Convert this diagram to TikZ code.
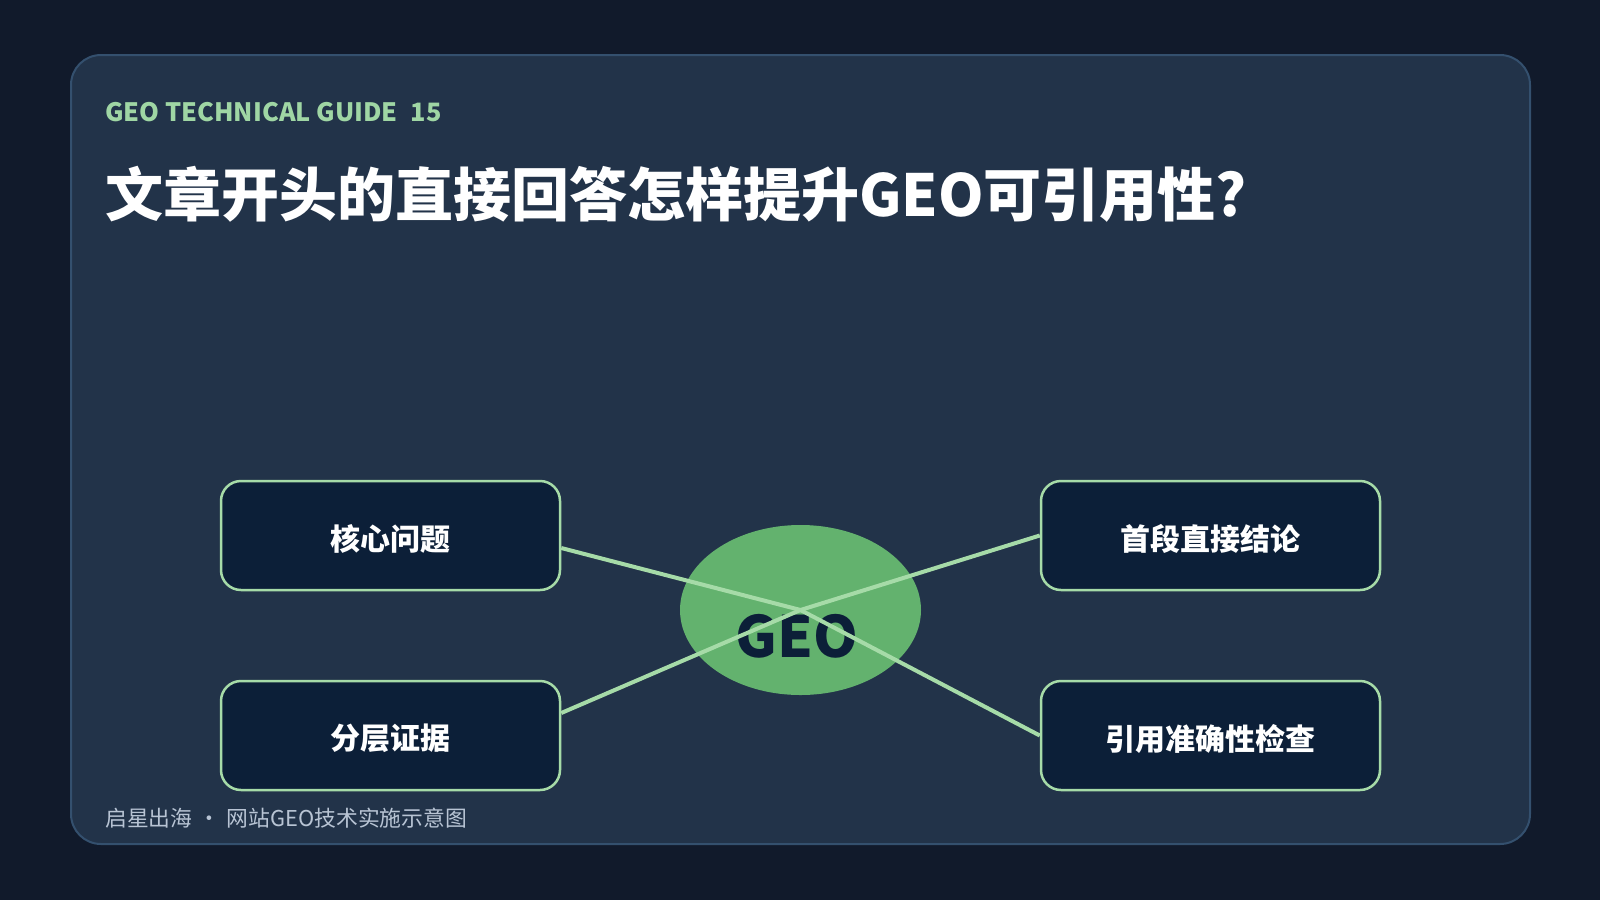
\documentclass[tikz,border=0pt]{standalone}
\usepackage{fontspec}
\setmainfont{Noto Sans CJK SC}
\newfontfamily\cjk{Noto Sans CJK SC}
\usetikzlibrary{shapes.geometric,calc}
\definecolor{bgc}{HTML}{111A2B}
\definecolor{cardc}{HTML}{223349}
\definecolor{cardb}{HTML}{34506E}
\definecolor{greent}{HTML}{9FD6A4}
\definecolor{boxc}{HTML}{0C1F38}
\definecolor{boxb}{HTML}{A6DBA8}
\definecolor{ellc}{HTML}{63B26E}
\definecolor{foot}{HTML}{B8C4D4}
\tikzset{
  itembox/.style={draw=boxb, line width=2.5pt, fill=boxc, rounded corners=20pt,
    minimum width=339pt, minimum height=109pt, inner sep=0pt},
  itemtext/.style={inner sep=0pt, text=white, font=\cjk\bfseries\fontsize{30}{34}\selectfont},
  link/.style={draw=boxb, line width=4pt},
}
\begin{document}
\begin{tikzpicture}[x=1pt,y=-1pt]
\useasboundingbox (0,0) rectangle (1600,900);
\fill[bgc] (0,0) rectangle (1600,900);
\draw[cardb, line width=2pt, fill=cardc, rounded corners=30pt] (71,55) rectangle (1530,844);
\node[anchor=base west, inner sep=0pt, text=greent, font=\cjk\bfseries\fontsize{25.3}{30}\selectfont] (hdr) at (105,121) {GEO TECHNICAL GUIDE\hspace{13pt}15};
\node[anchor=base west, inner sep=0pt, text=white, font=\cjk\bfseries\fontsize{58}{66}\selectfont] (ttl) at (105,216) {文章开头的直接回答怎样提升GEO可引用性?};
\node[itembox] (k1) at (390.5,535.5) {};
\node[itembox] (k2) at (390.5,735.5) {};
\node[itembox] (k3) at (1210.5,535.5) {};
\node[itembox] (k4) at (1210.5,735.5) {};
\node[itemtext] (t1) at ($(k1.center)+(0,3)$) {核心问题};
\node[itemtext] (t2) at ($(k2.center)+(0,3)$) {分层证据};
\node[itemtext] (t3) at ($(k3.center)+(0,3)$) {首段直接结论};
\node[itemtext] (t4) at ($(k4.center)+(0,3)$) {引用准确性检查};
\node[ellipse, fill=ellc, minimum width=241pt, minimum height=170pt, inner sep=0pt] (geo) at (800.5,610) {};
\node[anchor=base, inner sep=0pt, text=boxc, font=\cjk\bfseries\fontsize{57}{64}\selectfont] (geot) at (797,657) {GEO};
\draw[link] (geo.center) -- ($(k1.east)+(0,12.5)$);
\draw[link] (geo.center) -- ($(k2.east)+(0,-22.5)$);
\draw[link] (geo.center) -- (k3.west);
\draw[link] (geo.center) -- (k4.west);
\node[anchor=base west, inner sep=0pt, text=foot, font=\cjk\fontsize{21.8}{25}\selectfont] (ftr) at (105,826) {启星出海 \hspace{1.5pt}·\hspace{1.5pt} 网站GEO技术实施示意图};
\end{tikzpicture}
\end{document}
